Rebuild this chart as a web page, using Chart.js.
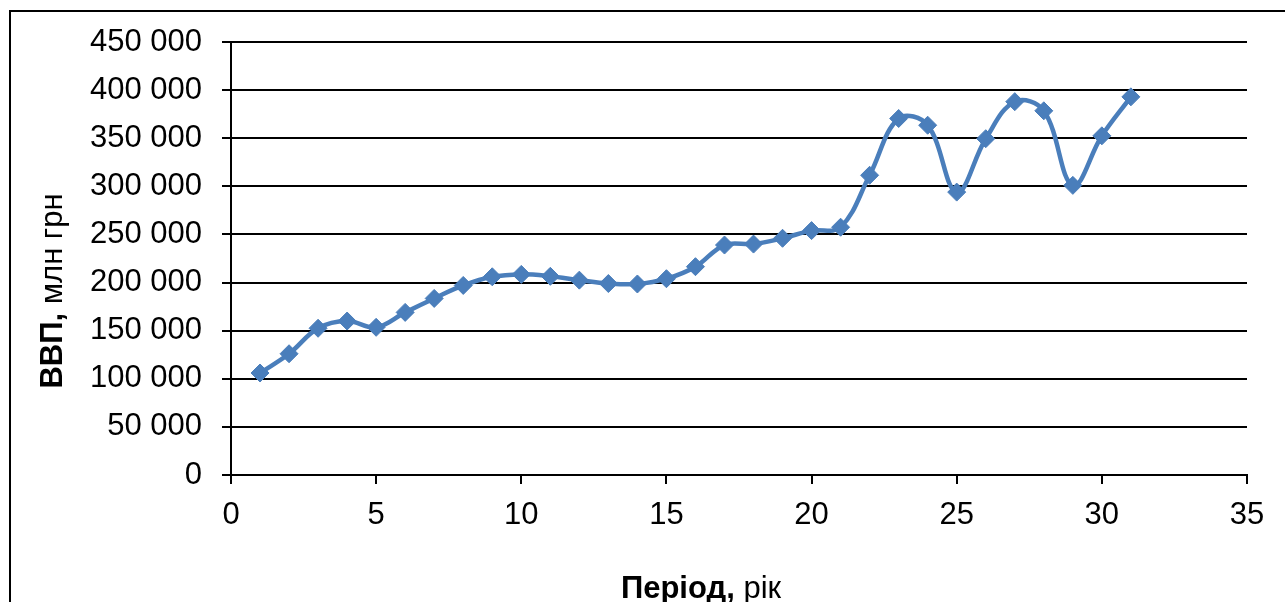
<!DOCTYPE html>
<html lang="uk">
<head>
<meta charset="utf-8">
<title>ВВП, млн грн</title>
<script src="https://cdn.jsdelivr.net/npm/chart.js@4/dist/chart.umd.min.js"></script>
<style>
  html, body { margin: 0; padding: 0; background: #ffffff; }
  #wrap { width: 1285px; height: 602px; overflow: hidden; }
</style>
</head>
<body>
<div id="wrap"><canvas id="gdp" width="1285" height="602"></canvas></div>
<script>
// Період (рік) і ВВП (млн грн)
const periods = [1, 2, 3, 4, 5, 6, 7, 8, 9, 10, 11, 12, 13, 14, 15, 16,
                 17, 18, 19, 20, 21, 22, 23, 24, 25, 26, 27, 28, 29, 30, 31];
const gdp = [106000, 126000, 152500, 160000, 153500, 169000, 183500, 197000,
             206000, 208500, 206500, 202500, 199000, 198500, 204000, 216500,
             239000, 240000, 246000, 254000, 257500, 311500, 370500, 363500,
             294000, 349500, 388000, 378500, 301000, 352500, 393000];

const xTickLabels = ['0', '5', '10', '15', '20', '25', '30', '35'];
const yTickLabels = ['0', '50 000', '100 000', '150 000', '200 000', '250 000',
                     '300 000', '350 000', '400 000', '450 000'];

const xTitleBold = 'Період,';
const xTitleRegular = ' рік';
const yTitleBold = 'ВВП,';
const yTitleRegular = ' млн грн';

const FONT = "'Liberation Sans', Arial, sans-serif";
const BLUE = '#4A7EBB';

// Outer frame and the two axis titles (bold part + regular part)
const decorations = {
  id: 'decorations',
  beforeDraw(chart) {
    const ctx = chart.ctx;
    ctx.save();
    ctx.fillStyle = '#ffffff';
    ctx.fillRect(0, 0, chart.width, chart.height);
    ctx.strokeStyle = '#000000';
    ctx.lineWidth = 2;
    ctx.strokeRect(10, 11, chart.width + 20, chart.height + 20);
    ctx.restore();
  },
  afterDraw(chart) {
    const ctx = chart.ctx;
    const bold = 'bold 31px ' + FONT;
    const reg = '31px ' + FONT;
    ctx.save();
    ctx.fillStyle = '#000000';
    ctx.textBaseline = 'alphabetic';
    ctx.textAlign = 'left';

    // x title
    ctx.font = bold; const xb = ctx.measureText(xTitleBold).width;
    ctx.font = reg;  const xr = ctx.measureText(xTitleRegular).width;
    let x0 = 701 - (xb + xr) / 2;
    ctx.font = bold; ctx.fillText(xTitleBold, x0, 598);
    ctx.font = reg;  ctx.fillText(xTitleRegular, x0 + xb, 598);

    // y title, rotated
    ctx.font = bold; const yb = ctx.measureText(yTitleBold).width;
    ctx.font = reg;  const yr = ctx.measureText(yTitleRegular).width;
    ctx.translate(62, 291);
    ctx.rotate(-Math.PI / 2);
    let y0 = -(yb + yr) / 2;
    ctx.font = bold; ctx.fillText(yTitleBold, y0, 0);
    ctx.font = reg;  ctx.fillText(yTitleRegular, y0 + yb, 0);
    ctx.restore();
  }
};

new Chart(document.getElementById('gdp'), {
  type: 'line',
  data: {
    datasets: [{
      label: 'ВВП',
      data: periods.map((p, i) => ({ x: p, y: gdp[i] })),
      borderColor: BLUE,
      borderWidth: 4.5,
      tension: 0.38,
      pointStyle: 'rectRot',
      pointRadius: 9,
      pointBackgroundColor: BLUE,
      pointBorderColor: BLUE,
      pointBorderWidth: 1,
      clip: false
    }]
  },
  options: {
    responsive: false,
    devicePixelRatio: 1,
    animation: false,
    events: [],
    layout: { padding: { left: 0, top: 42, right: 38, bottom: 0 } },
    plugins: {
      legend: { display: false },
      tooltip: { enabled: false },
      title: { display: false }
    },
    scales: {
      x: {
        type: 'linear',
        min: 0, max: 35,
        afterFit(scale) { scale.height = 127; scale.paddingLeft = 0; scale.paddingRight = 0; },
        ticks: {
          stepSize: 5,
          color: '#000000',
          padding: 13,
          maxRotation: 0,
          font: { family: FONT, size: 31 },
          callback: (v, i) => xTickLabels[i]
        },
        grid: {
          drawOnChartArea: false,
          drawTicks: true,
          tickLength: 9,
          color: '#000000',
          lineWidth: 2
        },
        border: { display: true, color: '#000000', width: 2 }
      },
      y: {
        type: 'linear',
        min: 0, max: 450000,
        afterFit(scale) { scale.width = 231; scale.paddingTop = 0; scale.paddingBottom = 0; },
        ticks: {
          stepSize: 50000,
          color: '#000000',
          padding: 20,
          font: { family: FONT, size: 31 },
          callback: (v, i) => yTickLabels[i]
        },
        grid: {
          drawOnChartArea: true,
          drawTicks: true,
          tickLength: 9,
          color: '#000000',
          lineWidth: 2
        },
        border: { display: true, color: '#000000', width: 2 }
      }
    }
  },
  plugins: [decorations]
});
</script>
</body>
</html>
